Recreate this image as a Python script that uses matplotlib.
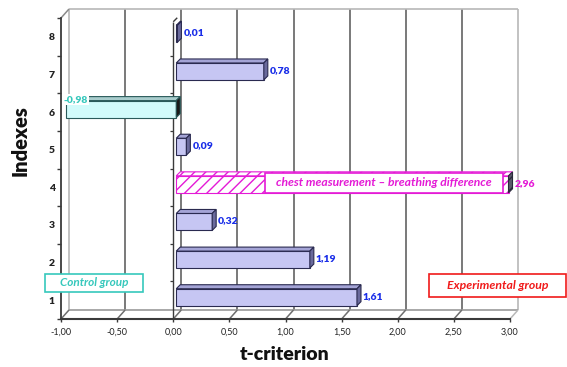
"""
Horizontal 3-D style bar chart of t-criterion values per index,
drawn with plain matplotlib patches (oblique projection).
"""

import matplotlib
matplotlib.use('Agg')
import matplotlib.pyplot as plt
import matplotlib.patches as mpatches

plt.rcParams['font.family'] = ['Lato', 'DejaVu Sans']
plt.rcParams['hatch.linewidth'] = 1.0

# Data
indexes = [1, 2, 3, 4, 5, 6, 7, 8]
t_values = [1.61, 1.19, 0.32, 2.96, 0.09, -0.98, 0.78, 0.01]
value_labels = ['1,61', '1,19', '0,32', '2,96', '0,09', '-0,98', '0,78', '0,01']
x_ticks = [-1.0, -0.5, 0.0, 0.5, 1.0, 1.5, 2.0, 2.5, 3.0]
x_tick_labels = ['-1,00', '-0,50', '0,00', '0,50', '1,00', '1,50', '2,00', '2,50', '3,00']
highlight_index = 4
highlight_text = 'chest measurement \u2013 breathing difference'
control_text = 'Control group'
experimental_text = 'Experimental group'

W, H = 567, 367

# Colours
BLUE = '#1a2ee8'
MAGENTA = '#e41ad6'
CYAN = '#36c8bc'
RED = '#f01a1a'
WALL_DARK = '#6e6e6e'
WALL_LIGHT = '#b8b8b8'
AXIS_DARK = '#3a3a3a'

fig = plt.figure(figsize=(W / 100, H / 100), dpi=100)
# front plane of the box: pixel rectangle x 61..510, y 18..319
ax = fig.add_axes([61 / W, (H - 319) / H, 449 / W, 301 / H])
ax.set_xlim(x_ticks[0], x_ticks[-1])
ax.set_ylim(0.5, len(indexes) + 0.5)


def px_to_data(dx, dy):
    """Convert a pixel offset into a data-unit offset on ax."""
    inv = ax.transData.inverted()
    x0, y0 = inv.transform((0, 0))
    x1, y1 = inv.transform((dx, dy))
    return x1 - x0, y1 - y0


def line(xs, ys, color, lw, z=1):
    ax.plot(xs, ys, color=color, lw=lw, zorder=z, clip_on=False,
            solid_capstyle='butt')


# depth of the wall and of the bars, in data units
wx, wy = px_to_data(8, 9)
bx, by = px_to_data(3, 3)
ddx, ddy = px_to_data(4, 4)
tick_dx, _ = px_to_data(3, 0)

y_lo, y_hi = 0.5, len(indexes) + 0.5
x_lo, x_hi = x_ticks[0], x_ticks[-1]

# back wall grid
for x in x_ticks[1:-1]:
    line([x + wx, x + wx], [y_lo + wy, y_hi + wy], WALL_DARK, 1.3)
for x in (x_lo, x_hi):
    line([x + wx, x + wx], [y_lo + wy, y_hi + wy], WALL_LIGHT, 1.2)
line([x_lo + wx, x_hi + wx], [y_hi + wy, y_hi + wy], WALL_LIGHT, 1.2)
line([x_lo + wx, x_hi + wx], [y_lo + wy, y_lo + wy], '#9a9a9a', 1.2)

# floor diagonals
for x in x_ticks:
    col = WALL_LIGHT if x == x_hi else WALL_DARK
    line([x, x + wx], [y_lo, y_lo + wy], col, 1.1)
line([x_lo, x_lo + wx], [y_hi, y_hi + wy], '#8a8a8a', 1.1)

# zero line in front, with its own small ticks between rows
line([0, 0], [y_lo, y_hi - 0.1], AXIS_DARK, 1.0, z=2)
line([0, ddx], [y_hi - 0.1, y_hi - 0.1 + ddy], AXIS_DARK, 1.0, z=2)
for k in range(1, len(indexes)):
    line([-tick_dx, 0], [k + 0.5, k + 0.5], AXIS_DARK, 0.9, z=2)

# bars
bar_h = 0.45
for idx, v, lab in zip(indexes, t_values, value_labels):
    x0 = min(0, v) + bx
    x1 = max(0, v) + bx
    yb = idx - bar_h / 2 + by
    yt = idx + bar_h / 2 + by

    hatch = None
    if idx == highlight_index:
        front_c, top_c, side_c, edge_c = 'white', 'white', '#5a5a6a', MAGENTA
        hatch = '///'
        lab_color = MAGENTA
    elif v < 0:
        front_c, top_c, side_c, edge_c = '#d2fbfb', '#a8cccc', '#1a1a1a', '#2a5a5a'
        lab_color = CYAN
    else:
        front_c, top_c, side_c, edge_c = '#c6c6f3', '#a4a4d6', '#6a6a9c', '#2a2a50'
        lab_color = BLUE

    front = mpatches.Rectangle((x0, yb), x1 - x0, yt - yb, facecolor=front_c,
                               edgecolor=edge_c, lw=0.8, hatch=hatch,
                               zorder=4, clip_on=False)
    top = mpatches.Polygon([(x0, yt), (x1, yt), (x1 + ddx, yt + ddy),
                            (x0 + ddx, yt + ddy)], closed=True,
                           facecolor=top_c, edgecolor=edge_c, lw=0.8,
                           hatch=hatch, zorder=4, clip_on=False)
    side = mpatches.Polygon([(x1, yb), (x1, yt), (x1 + ddx, yt + ddy),
                             (x1 + ddx, yb + ddy)], closed=True,
                            facecolor=side_c,
                            edgecolor='#2a2a3a' if hatch else edge_c, lw=0.8,
                            hatch=hatch, zorder=4, clip_on=False)
    for p in (front, top, side):
        ax.add_patch(p)

    if v < 0:
        ax.annotate(lab, xy=(v, idx), xytext=(0, 13),
                    textcoords='offset pixels', ha='left', va='center',
                    fontsize=7.5, fontweight='heavy', color=lab_color, zorder=6,
                    bbox=dict(boxstyle='square,pad=0.1', facecolor='white',
                              edgecolor='none'))
    else:
        ax.annotate(lab, xy=(v, idx), xytext=(9, 4),
                    textcoords='offset pixels', ha='left', va='center',
                    fontsize=7.5, fontweight='heavy', color=lab_color, zorder=6)

# axes, ticks and labels
for s in ('top', 'right'):
    ax.spines[s].set_visible(False)
ax.spines['left'].set_color(AXIS_DARK)
ax.spines['left'].set_linewidth(1.3)
ax.spines['bottom'].set_color(AXIS_DARK)
ax.spines['bottom'].set_linewidth(1.5)
ax.set_facecolor('none')

ax.set_xticks(x_ticks)
ax.set_xticklabels(x_tick_labels)
ax.set_yticks(indexes)
ax.set_yticklabels([str(i) for i in indexes])
ax.set_yticks([i + 0.5 for i in range(len(indexes) + 1)], minor=True)
ax.tick_params(axis='x', length=2.5, width=1, color=AXIS_DARK, pad=3.5,
               labelsize=6.5, labelcolor='#222222')
ax.tick_params(axis='y', which='major', length=0, pad=4.5, labelsize=7.5,
               labelcolor='#222222')
ax.tick_params(axis='y', which='minor', length=3, width=1, color=AXIS_DARK,
               direction='out')
for t in ax.get_yticklabels():
    t.set_fontweight('heavy')

fig.text(285 / W, 1 - 355 / H, 't-criterion', fontsize=14, fontweight='heavy',
         ha='center', va='center', color='#111111')
fig.text(20 / W, 1 - 141 / H, 'Indexes', fontsize=14.5, fontweight='heavy',
         rotation=90, ha='center', va='center', color='#111111')


def fig_box(x0, y0, x1, y1, edge, text, color, size=8.5):
    """Framed caption placed in figure pixel coordinates."""
    rect = mpatches.Rectangle((x0 / W, 1 - y1 / H), (x1 - x0) / W,
                              (y1 - y0) / H, transform=fig.transFigure,
                              facecolor='white', edgecolor=edge, lw=1.2,
                              zorder=5)
    fig.add_artist(rect)
    fig.text((x0 + x1) / 2 / W, 1 - (y0 + y1) / 2 / H, text, fontsize=size,
             fontstyle='italic', fontweight='bold', color=color,
             ha='center', va='center', zorder=6)


fig_box(265, 173, 503, 193, MAGENTA, highlight_text, MAGENTA, size=8.7)
fig_box(45, 274, 143, 292, CYAN, control_text, CYAN)
fig_box(429, 274, 566, 297, RED, experimental_text, RED, size=8.8)

fig.savefig('out.png', dpi=100)
